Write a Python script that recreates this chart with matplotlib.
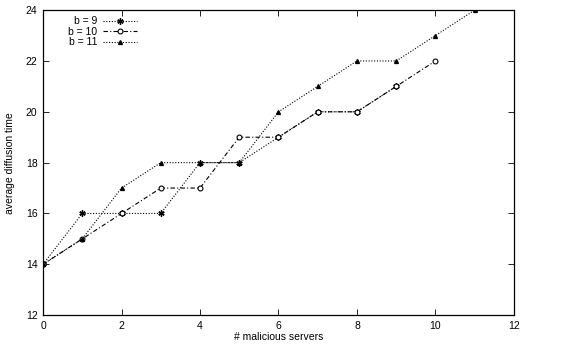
import numpy as np
import matplotlib
matplotlib.use("Agg")
import matplotlib.pyplot as plt

plt.rcParams['font.family'] = ['Liberation Sans', 'DejaVu Sans']
plt.rcParams['font.size'] = 7.5

# data
x9 = [0, 1, 2, 3, 4, 5, 6, 7, 8, 9]
y9 = [14, 16, 16, 16, 18, 18, 19, 20, 20, 21]
x10 = [0, 1, 2, 3, 4, 5, 6, 7, 8, 9, 10]
y10 = [14, 15, 16, 17, 17, 19, 19, 20, 20, 21, 22]
x11 = [0, 1, 2, 3, 4, 5, 6, 7, 8, 9, 10, 11]
y11 = [14, 15, 17, 18, 18, 18, 20, 21, 22, 22, 23, 24]
xticks = [0, 2, 4, 6, 8, 10, 12]
yticks = [12, 14, 16, 18, 20, 22, 24]

fig = plt.figure(figsize=(5.66, 3.49), dpi=100)
ax = fig.add_axes([0.076, 0.097, 0.832, 0.874])

ax.plot(x9, y9, color='black', lw=0.8, ls=(0, (1, 1.5)), marker=(6, 2, 0),
        ms=4.5, mew=1.0, label='b = 9')
ax.plot(x10, y10, color='black', lw=0.8, ls=(0, (4, 2, 1, 2)), marker='o',
        ms=3.5, mfc='white', mew=0.8, label='b = 10')
ax.plot(x11, y11, color='black', lw=0.8, ls=(0, (1, 1.5)), marker='^',
        ms=2.8, label='b = 11')

ax.set_xlim(0, 12)
ax.set_ylim(12, 24)
ax.set_xticks(xticks)
ax.set_yticks(yticks)
ax.tick_params(direction='in', top=True, right=True, length=4, width=0.6, pad=4)
for s in ax.spines.values():
    s.set_linewidth(0.9)
ax.set_xlabel('# malicious servers', labelpad=1)
ax.set_ylabel('average diffusion time', labelpad=8)

ax.legend(loc='upper left', frameon=False, markerfirst=False, handlelength=3.2,
          handletextpad=0.6, labelspacing=0.05, borderaxespad=0.2,
          bbox_to_anchor=(0.04, 1.0), fontsize=7.5)

fig.savefig('out.png', dpi=100)
